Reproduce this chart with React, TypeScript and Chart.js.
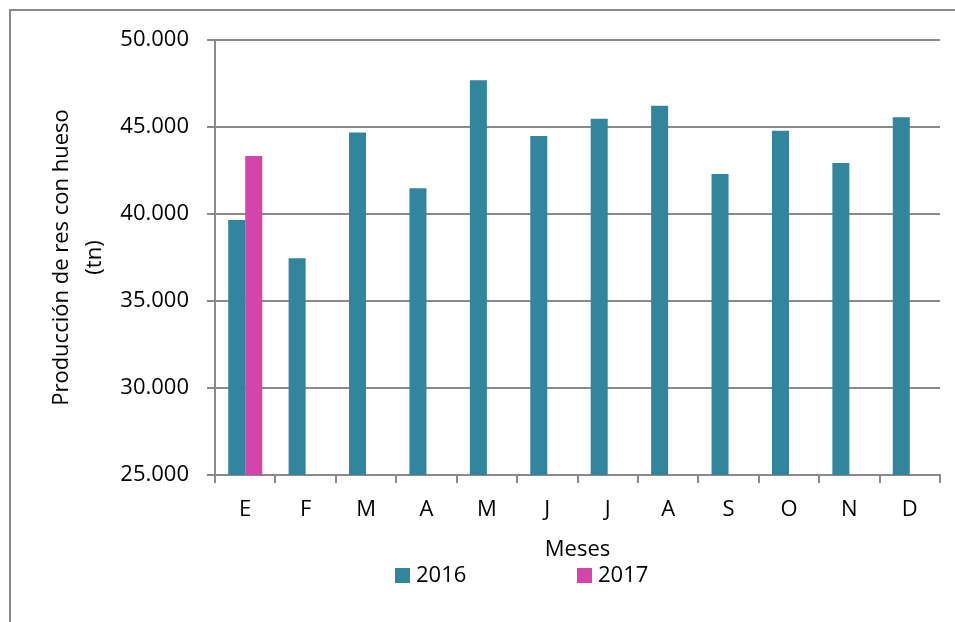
import React, { useEffect, useRef } from "react";
import { Chart, registerables } from "chart.js";

Chart.register(...registerables);

const months = ["E", "F", "M", "A", "M", "J", "J", "A", "S", "O", "N", "D"];
const series2016 = [39650, 37450, 44690, 41475, 47680, 44480, 45480, 46225, 42300, 44790, 42930, 45560];
const series2017: (number | null)[] = [43330, null, null, null, null, null, null, null, null, null, null, null];
const seriesLabels = ["2016", "2017"];
const seriesColors = ["#31859C", "#D444AC"];
const yMin = 25000;
const yMax = 50000;
const yStep = 5000;
const yTitle = ["Producción de res con hueso", "(tn)"];
const xTitle = "Meses";

const FONT = "'Open Sans', sans-serif";
const GRID = "#8a8a8a";

function fmt(v: number): string {
  return String(Math.round(v)).replace(/\B(?=(\d{3})+(?!\d))/g, ".");
}

const legendPlugin = {
  id: "customLegend",
  afterDraw(chart: any) {
    const ctx = chart.ctx;
    ctx.save();
    ctx.font = `22px ${FONT}`;
    ctx.textBaseline = "middle";
    ctx.textAlign = "left";
    chart.data.datasets.forEach((ds: any, i: number) => {
      const x = 395 + i * 182;
      ctx.fillStyle = ds.backgroundColor;
      ctx.fillRect(x, 568, 15, 15);
      ctx.fillStyle = "#000";
      ctx.fillText(ds.label, x + 21, 576);
    });
    ctx.restore();
  },
};

export default function App() {
  const ref = useRef<HTMLCanvasElement | null>(null);
  useEffect(() => {
    if (!ref.current) return;
    const chart = new Chart(ref.current, {
      type: "bar",
      data: {
        labels: months,
        datasets: [
          { label: seriesLabels[0], data: series2016, backgroundColor: seriesColors[0] },
          { label: seriesLabels[1], data: series2017 as any, backgroundColor: seriesColors[1] },
        ],
      },
      plugins: [legendPlugin],
      options: {
        responsive: false,
        animation: false,
        layout: { padding: { left: 0, right: 15, top: 40, bottom: 0 } },
        datasets: { bar: { barPercentage: 1, categoryPercentage: 0.563 } },
        plugins: { legend: { display: false }, tooltip: { enabled: false } },
        scales: {
          x: {
            grid: { drawOnChartArea: false, drawTicks: true, tickLength: 8, color: GRID, lineWidth: 2 },
            border: { color: GRID, width: 2 },
            ticks: { color: "#000", font: { family: FONT, size: 22 }, padding: 14 },
            title: {
              display: true,
              text: xTitle,
              color: "#000",
              font: { family: FONT, size: 22, lineHeight: 1.5 },
              padding: { top: 0, bottom: 56 },
            },
            afterFit(s: any) {
              s.height = 147;
            },
          },
          y: {
            min: yMin,
            max: yMax,
            grid: { color: GRID, lineWidth: 2, tickLength: 8 },
            border: { color: GRID, width: 2 },
            ticks: {
              stepSize: yStep,
              color: "#000",
              font: { family: FONT, size: 22 },
              padding: 18,
              callback: (v: any) => fmt(Number(v)),
            },
            title: {
              display: true,
              text: yTitle,
              color: "#000",
              font: { family: FONT, size: 22, lineHeight: 1.5 },
              padding: { top: 45, bottom: 0 },
            },
            afterFit(s: any) {
              s.width = 215;
            },
          },
        },
      },
    });
    return () => chart.destroy();
  }, []);

  return (
    <div style={{ position: "fixed", left: 0, top: 0, width: 955, height: 622, overflow: "hidden", background: "#fff" }}>
      <div
        style={{
          position: "absolute",
          left: 9,
          top: 9,
          width: 2000,
          height: 2000,
          borderLeft: `2px solid ${GRID}`,
          borderTop: `2px solid ${GRID}`,
        }}
      />
      <canvas ref={ref} width={955} height={622} style={{ position: "absolute", left: 0, top: 0 }} />
    </div>
  );
}
